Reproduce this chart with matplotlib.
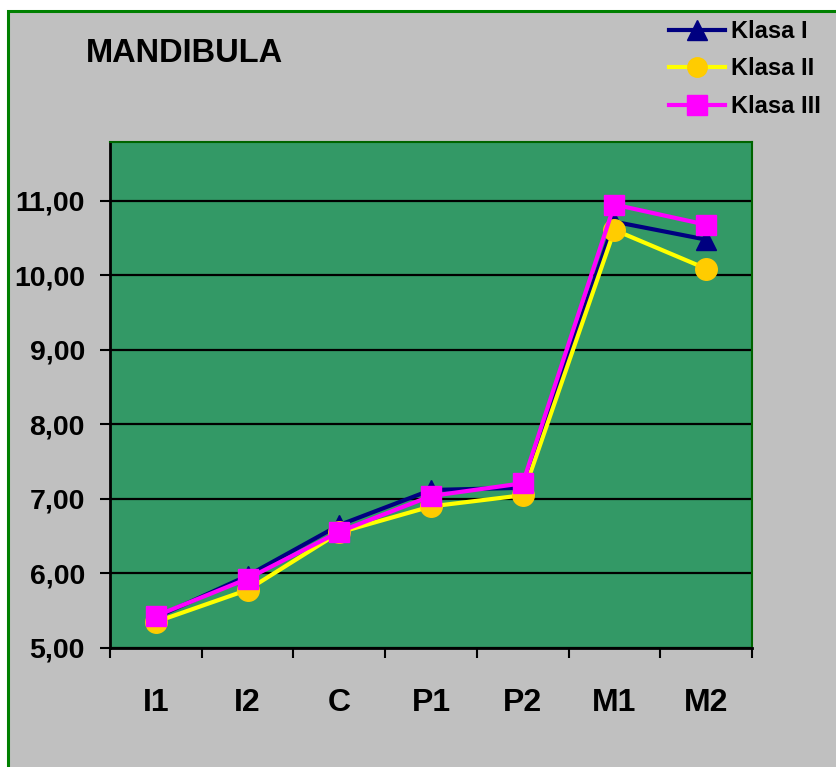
import matplotlib
matplotlib.use("Agg")
import matplotlib.pyplot as plt
from matplotlib.patches import Rectangle

plt.rcParams['font.family'] = ['Liberation Sans', 'DejaVu Sans']
plt.rcParams['font.weight'] = 'bold'

categories = ["I1", "I2", "C", "P1", "P2", "M1", "M2"]
klasa_1 = [5.41, 5.97, 6.65, 7.12, 7.15, 10.72, 10.48]
klasa_2 = [5.35, 5.78, 6.55, 6.90, 7.05, 10.61, 10.09]
klasa_3 = [5.43, 5.93, 6.56, 7.04, 7.21, 10.95, 10.68]
y_ticks = [5, 6, 7, 8, 9, 10, 11]

fig = plt.figure(figsize=(8.36, 7.67), dpi=100, facecolor='white')

# gray chart area with a green border (cut off at right and bottom)
fig.patches.append(Rectangle((7.5 / 836, -0.05), 1.2, 1 - 10.5 / 767 + 0.05,
                             transform=fig.transFigure, facecolor='#C0C0C0',
                             edgecolor='#008000', linewidth=2.2, zorder=-1))

ax = fig.add_axes([110 / 836, 1 - 648 / 767, 642 / 836, 506 / 767])
ax.set_facecolor('#339966')

x = list(range(len(categories)))
ax.plot(x, klasa_1, color='#000080', lw=3, marker='^', ms=15,
        mfc='#000080', mec='#000080', label='Klasa I', zorder=3)
ax.plot(x, klasa_2, color='#FFFF00', lw=3, marker='o', ms=15.5,
        mfc='#FFCC00', mec='#FFCC00', label='Klasa II', zorder=4)
ax.plot(x, klasa_3, color='#FF00FF', lw=3, marker='s', ms=15,
        mfc='#FF00FF', mec='#FF00FF', label='Klasa III', zorder=5)

ax.set_xlim(-0.5, len(categories) - 0.5)
ax.set_ylim(5, 11.79)
ax.set_yticks(y_ticks)
ax.set_yticklabels([f"{v:.2f}".replace('.', ',') for v in y_ticks])
ax.yaxis.grid(True, color='black', lw=1.6)
ax.set_axisbelow(True)
ax.tick_params(axis='y', length=7, width=1.5, pad=11, labelsize=20.5)

ax.set_xticks(x)
ax.set_xticklabels(categories)
ax.set_xticks([i - 0.5 for i in range(len(categories) + 1)], minor=True)
ax.tick_params(axis='x', which='major', length=0, pad=29, labelsize=23)
ax.tick_params(axis='x', which='minor', length=7, width=1.5)

for side in ['left', 'bottom']:
    ax.spines[side].set_color('black')
    ax.spines[side].set_linewidth(2)
for side in ['top', 'right']:
    ax.spines[side].set_color('#006400')
    ax.spines[side].set_linewidth(1.5)

fig.text(86 / 836, 1 - 53 / 767, "MANDIBULA", fontsize=23.5,
         fontweight='bold', va='center', ha='left')

leg = fig.legend(loc='upper left', bbox_to_anchor=(657 / 836, 1 - 8 / 767),
                 frameon=False, fontsize=17, handlelength=2.4,
                 handletextpad=0.25, labelspacing=0.62, borderpad=0)
for h in leg.legend_handles:
    h.set_markersize(14)

fig.savefig("out.png", dpi=100, facecolor=fig.get_facecolor())
